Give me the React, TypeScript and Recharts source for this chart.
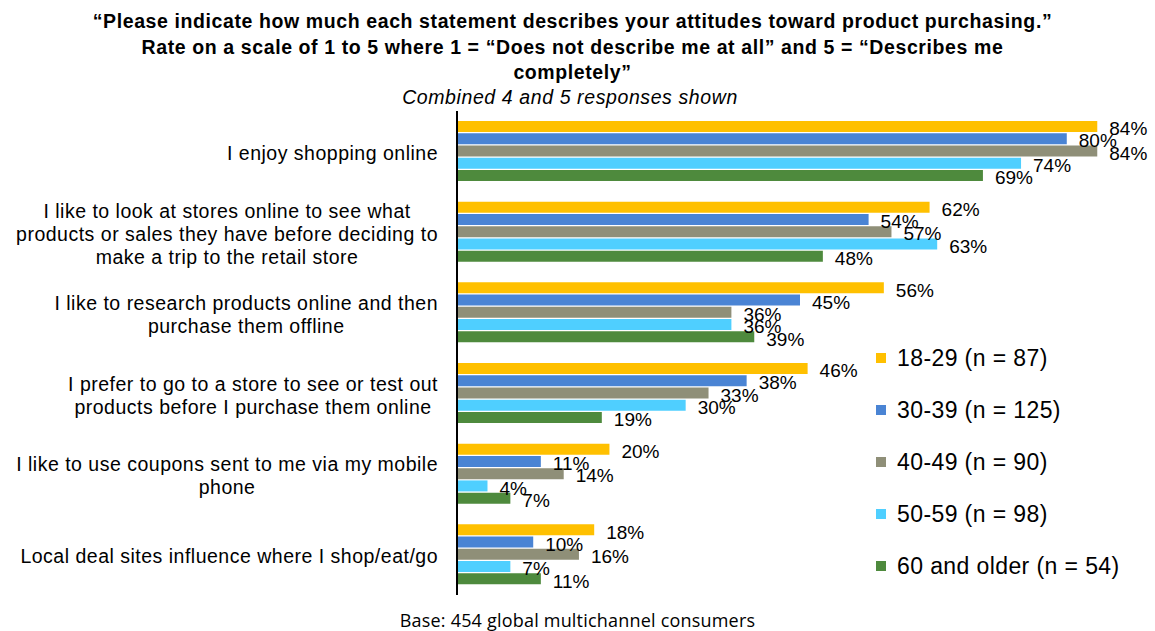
import { BarChart, Bar, XAxis, YAxis, LabelList, Legend } from 'recharts';

const CATEGORIES = [
  'I enjoy shopping online',
  'I like to look at stores online to see what\nproducts or sales they have before deciding to\nmake a trip to the retail store',
  'I like to research products online and then\npurchase them offline',
  'I prefer to go to a store to see or test out\nproducts before I purchase them online',
  'I like to use coupons sent to me via my mobile\nphone',
  'Local deal sites influence where I shop/eat/go',
];

const SERIES = ['18-29 (n = 87)', '30-39 (n = 125)', '40-49 (n = 90)', '50-59 (n = 98)', '60 and older (n = 54)'];
const COLORS = ['#FFC000', '#4A84D4', '#8F8F78', '#4FCFFF', '#4E8A3D'];

const AGE_18_29 = [84, 62, 56, 46, 20, 18];
const AGE_30_39 = [80, 54, 45, 38, 11, 10];
const AGE_40_49 = [84, 57, 36, 33, 14, 16];
const AGE_50_59 = [74, 63, 36, 30, 4, 7];
const AGE_60_PLUS = [69, 48, 39, 19, 7, 11];

const TITLE_LINES = [
  '\u201cPlease indicate how much each statement describes your attitudes toward product purchasing.\u201d',
  'Rate on a scale of 1 to 5 where 1 = \u201cDoes not describe me at all\u201d and 5 = \u201cDescribes me',
  'completely\u201d',
];
const SUBTITLE = 'Combined 4 and 5 responses shown';
const FOOTNOTE = 'Base: 454 global multichannel consumers';

const SERIES_VALUES = [AGE_18_29, AGE_30_39, AGE_40_49, AGE_50_59, AGE_60_PLUS];
const data = CATEGORIES.map((category, i) => {
  const row: Record<string, string | number> = { category };
  SERIES.forEach((s, j) => {
    row[s] = SERIES_VALUES[j][i];
  });
  return row;
});

const FONT = '"Liberation Sans", Arial, sans-serif';
const TICK_SIZE = 19.5;
const TICK_SPACING = 0.5;

let ctx: CanvasRenderingContext2D | null = null;
const measure = (s: string) => {
  if (!ctx) {
    ctx = document.createElement('canvas').getContext('2d');
  }
  if (!ctx) return s.length * TICK_SIZE * 0.5;
  ctx.font = `${TICK_SIZE}px "Liberation Sans", Arial, sans-serif`;
  return ctx.measureText(s).width + s.length * TICK_SPACING;
};

// multi-line label: lines centred on each other, block right-aligned to the axis
const CategoryTick = ({ x, y, payload }: any) => {
  const lines = String(payload.value).split('\n');
  const blockW = Math.max(...lines.map(measure));
  const cx = x - 11 - blockW / 2;
  const lh = 23;
  const startY = y + 2 - ((lines.length - 1) * lh) / 2;
  return (
    <text
      textAnchor="middle"
      fontFamily={FONT}
      fontSize={TICK_SIZE}
      letterSpacing={TICK_SPACING}
      fill="#000"
    >
      {lines.map((l, i) => (
        <tspan key={i} x={cx} y={startY + i * lh} dy="0.35em">
          {l}
        </tspan>
      ))}
    </text>
  );
};

const renderLegend = ({ payload }: any) => (
  <div style={{ fontFamily: FONT }}>
    {(payload || []).map((p: any) => (
      <div key={p.value} style={{ display: 'flex', alignItems: 'center', height: 52 }}>
        <span style={{ display: 'inline-block', width: 10, height: 10, background: p.color, marginRight: 11 }} />
        <span style={{ fontSize: 23, letterSpacing: 0.4, color: '#000' }}>{p.value}</span>
      </div>
    ))}
  </div>
);

export default function App() {
  return (
    <div style={{ position: 'absolute', left: 0, top: 0, width: 1155, height: 631, background: '#fff' }}>
      <div style={{ position: 'absolute', left: 0, top: 9, width: 1145, textAlign: 'center', fontFamily: FONT, fontWeight: 'bold', fontSize: 19.5, letterSpacing: 0.6, lineHeight: '25.5px', color: '#000' }}>
        {TITLE_LINES.map((l) => (
          <div key={l}>{l}</div>
        ))}
      </div>
      <div style={{ position: 'absolute', left: 0, top: 84, width: 1140, textAlign: 'center', fontFamily: FONT, fontStyle: 'italic', fontSize: 19.5, letterSpacing: 0.6, lineHeight: '26px', color: '#000' }}>
        {SUBTITLE}
      </div>
      <BarChart
        width={1155}
        height={631}
        layout="vertical"
        data={data}
        margin={{ top: 111, right: 12, bottom: 36, left: 0 }}
        barSize={11}
        barGap={1.25}
      >
        <XAxis type="number" domain={[0, 90]} hide />
        <YAxis
          type="category"
          dataKey="category"
          width={457}
          axisLine={{ stroke: '#000', strokeWidth: 2 }}
          tickLine={false}
          tick={<CategoryTick />}
          interval={0}
        />
        <Legend
          layout="vertical"
          align="center"
          verticalAlign="middle"
          content={renderLegend}
          wrapperStyle={{ left: 876, top: 332, width: 270 }}
        />
        {SERIES.map((s, i) => (
          <Bar key={s} dataKey={s} fill={COLORS[i]} isAnimationActive={false}>
            <LabelList
              dataKey={s}
              position="right"
              offset={12}
              formatter={(v: any) => `${v}%`}
              fill="#000"
              fontSize={19}
              fontFamily={FONT}
              dy={2}
            />
          </Bar>
        ))}
      </BarChart>
      <div style={{ position: 'absolute', left: 0, top: 607, width: 1155, textAlign: 'center', fontFamily: '"Open Sans", "Noto Sans", sans-serif', fontSize: 18, letterSpacing: 0.2, lineHeight: '26px', color: '#000' }}>
        {FOOTNOTE}
      </div>
    </div>
  );
}
